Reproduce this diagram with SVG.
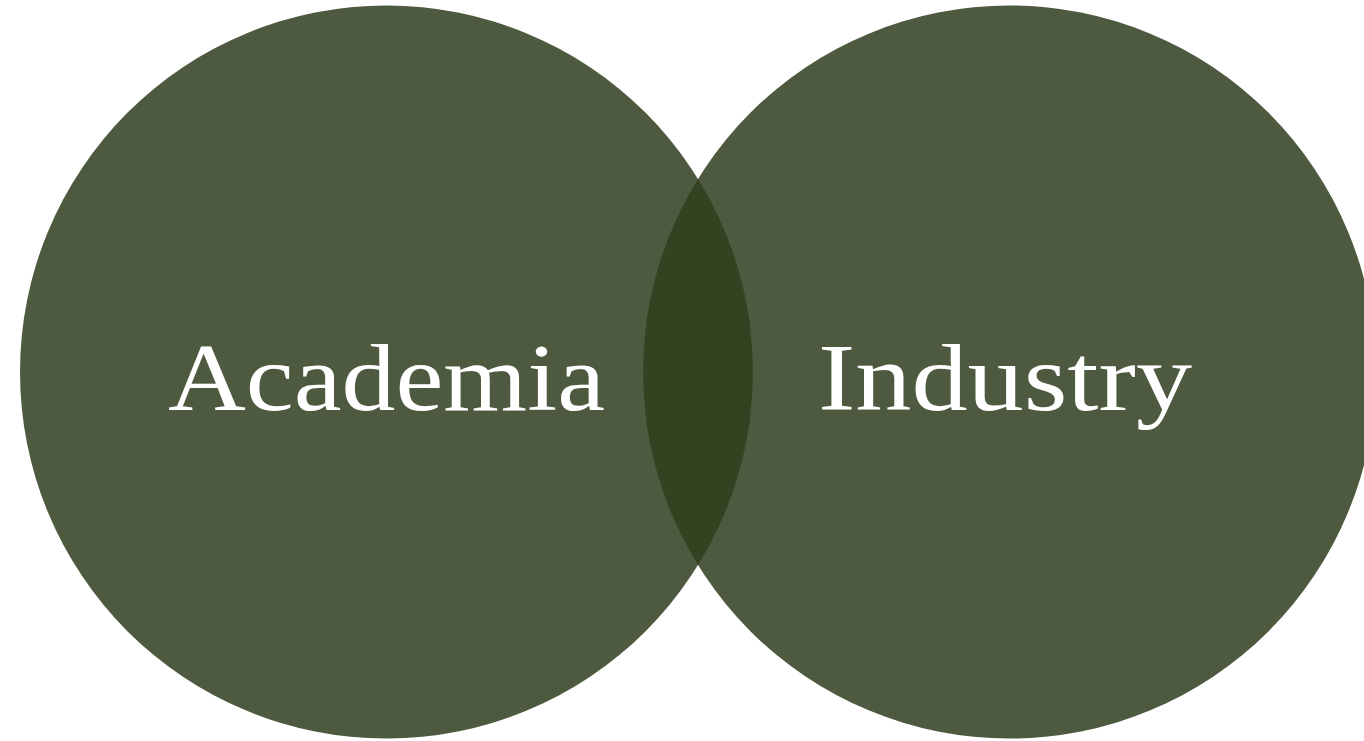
<svg xmlns="http://www.w3.org/2000/svg" width="1364" height="741" viewBox="0 0 1364 741">
  <style>
    .set { fill: #4e5a3f; }
    .overlap { fill: #344221; }
    .label { fill: #ffffff; font-family: "Liberation Serif", "DejaVu Serif", serif; font-size: 96px; }
  </style>
  <rect width="1364" height="741" fill="#ffffff"/>
  <g id="academia">
    <circle class="set" cx="386.5" cy="372" r="366.5"/>
  </g>
  <g id="industry">
    <circle class="set" cx="1009.5" cy="372" r="366.5"/>
  </g>
  <g id="intersection">
    <path class="overlap" d="M698 179 A366.5 366.5 0 0 1 698 565 A366.5 366.5 0 0 1 698 179 Z"/>
  </g>
  <g id="labels">
    <text class="label" x="168" y="410" textLength="437" lengthAdjust="spacingAndGlyphs">Academia</text>
    <text class="label" x="818" y="410" textLength="374" lengthAdjust="spacingAndGlyphs">Industry</text>
  </g>
  <g id="connectors"/>
</svg>
